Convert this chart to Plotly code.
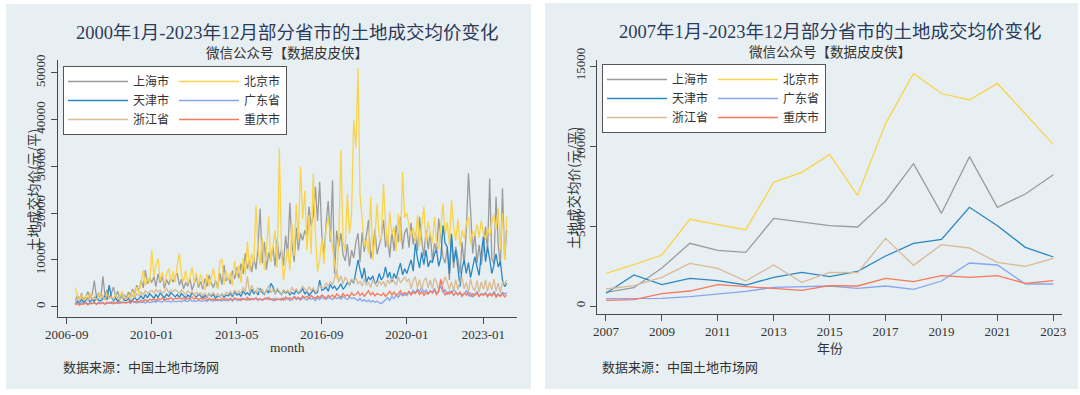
import plotly.graph_objects as go
import pandas as pd

W, H = 1080, 395

# ---------------- data ----------------
names = ["上海市", "北京市", "天津市", "广东省", "浙江省", "重庆市"]
line_colors = ["#9b9b9b", "#f9d44a", "#2a87c6", "#86a6ee", "#d8bb93", "#f7785a"]
groups_left = ["a", "b", "a", "b", "a", "b"]

months = pd.date_range("2007-01-01", "2023-12-01", freq="MS")
month_tick_vals = ["2006-09-01", "2010-01-01", "2013-05-01", "2016-09-01", "2020-01-01", "2023-01-01"]
month_tick_text = ["2006-09", "2010-01", "2013-05", "2016-09", "2020-01", "2023-01"]

sh_m = [
    1200, 2400, 1600, 2900, 1400, 2100, 3200, 1800, 2600, 5600, 2000, 3000,
    1700, 6500, 2500, 3600, 1900, 2800, 4200, 2200, 3300, 1600, 2900, 2400,
    2000, 3100, 2400, 3800, 2700, 4600, 3300, 5700, 4000, 7800, 4900, 6100,
    5200, 6400, 4300, 7000, 5100, 6600, 3900, 5800, 4700, 6200, 5300, 6400,
    7100, 4600, 5900, 3800, 5200, 4400, 6000, 3500, 4800, 6400, 4100, 5400,
    3700, 6000, 4300, 6800, 5000, 4100, 5600, 3900, 7200, 4700, 8900, 5500,
    6300, 4800, 7700, 5900, 8400, 6100, 9200, 7000, 11400, 8100, 9800, 7400,
    10500, 8000, 12600, 21000, 9300, 13800, 7900, 11600, 9700, 12800, 8600, 14500,
    10100, 12300, 8800, 15200, 11000, 22200, 13400, 9600, 16900, 12000, 15700, 14200,
    16300, 14800, 21400, 17200, 19500, 25600, 18300, 26700, 15300, 10700, 17800, 22600,
    13900, 27000, 7100, 16200, 12800, 15700, 11200, 9800, 13400, 8600, 12100, 10400,
    13700, 15700, 9500, 15900, 11700, 15700, 18500, 10300, 12400, 16600, 11200, 13100,
    14800, 18500, 12700, 14900, 10500, 16200, 11900, 17400, 13800, 19200, 12300, 15800,
    16800, 12600, 17900, 13300, 15800, 11900, 19200, 14200, 10800, 16400, 12300, 15700,
    9800, 13600, 11500, 18900, 14100, 10600, 9300, 12700, 5700, 15100, 8300, 12800,
    10200, 7100, 13800, 9000, 16300, 28500, 20600, 11400, 15700, 9300, 13200, 8900,
    12400, 17100, 11800, 27400, 10300, 9100, 23500, 13200, 8600, 25300, 10100, 16400,
]
bj_m = [
    4100, 2300, 1500, 2600, 1200, 2400, 1800, 3000, 1600, 2200, 1400, 2800,
    1900, 2500, 1300, 3100, 1700, 2200, 1500, 2700, 1200, 2000, 3300, 1800,
    1500, 2600, 2000, 3400, 2300, 4200, 3000, 5500, 7800, 4500, 6200, 5000,
    12100, 6500, 8800, 10300, 5600, 7400, 4800, 6900, 8200, 5300, 7600, 5200,
    9000, 11400, 6800, 5400, 7700, 4900, 6300, 8400, 5100, 7200, 4600, 6900,
    5300, 3600, 7000, 4400, 6100, 8200, 5000, 3800, 9600, 10200, 4700, 7600,
    5800, 7300, 4500, 9800, 6400, 8900, 5100, 10400, 6900, 13900, 7600, 11300,
    9400, 21700, 12500, 8900, 14800, 7800, 11600, 19200, 9700, 13600, 16300, 8300,
    33800, 11800, 5600, 9300, 12400, 7800, 17800, 10900, 22000, 14200, 29900, 18700,
    24800, 12000, 19600, 11200, 28500, 15300, 7500, 10000, 14600, 9200, 16900, 18900,
    16000, 12800, 9500, 6000, 14400, 33500, 14000, 11800, 24200, 15600, 20000, 39900,
    34000, 51000, 24000, 18600, 12800, 14200, 11300, 23500, 10000, 14800, 22000, 15000,
    14500, 26300, 18000, 12600, 20300, 15400, 17000, 11800, 19800, 13900, 28800, 19000,
    20000, 17300, 15200, 16800, 14000, 19600, 12900, 17500, 21400, 13800, 18200, 15500,
    13600, 19200, 14100, 12300, 16900, 22000, 15300, 18100, 13200, 22800, 17000, 14100,
    18700, 12900, 16300, 14600, 17800, 19200, 13500, 16200, 15100, 17600, 14800, 18400,
    15600, 14300, 16900, 15200, 17800, 19700, 16500, 21000, 12300, 20000, 10000, 19200,
]
tj_m = [
    600, 1200, 800, 1500, 900, 1300, 1800, 1000, 1600, 1100, 2200, 1400,
    1200, 1700, 2400, 1500, 4600, 2100, 1300, 1900, 1100, 1600, 2300, 1400,
    1300, 1800, 1100, 1500, 2000, 1400, 1700, 2300, 1600, 2600, 1900, 2800,
    2200, 1800, 2600, 2000, 2900, 2400, 1900, 2700, 2200, 3000, 2500, 2100,
    2600, 2000, 2800, 2300, 1900, 2500, 2100, 2900, 2400, 2000, 2700, 2200,
    1900, 2400, 2000, 2800, 2200, 2600, 1800, 2300, 2100, 2700, 2000, 2500,
    2300, 2900, 2100, 3200, 2500, 2800, 2200, 3400, 2600, 3000, 2400, 3700,
    2800, 3300, 2500, 3900, 3000, 2600, 3500, 2900, 5000, 4300, 2700, 3600,
    3100, 2600, 3400, 2900, 3300, 2500, 3000, 2700, 3500, 2800, 3200, 3900,
    2700, 3300, 2400, 2900, 3600, 2800, 3100, 5700, 3500, 3700, 4200, 3300,
    4800, 3900, 4400, 3600, 4100, 4900, 3700, 4300, 5200, 4600, 5800, 5000,
    7200, 10000, 7900, 6000, 8300, 5200, 6300, 5800, 6600, 4900, 5400, 7100,
    5700, 6500, 8500, 6200, 7400, 5300, 7100, 6000, 7800, 9300, 6800, 8100,
    7100, 8900, 10000, 7600, 13500, 10300, 8300, 11600, 9000, 12100, 8500, 9800,
    9500, 11300, 12100, 8600, 10400, 17400, 13600, 12800, 7100, 15600, 9400, 12100,
    7600, 4300, 8200, 10000, 7100, 9400, 6200, 8800, 10700, 8500, 6700, 11300,
    15000, 9600, 12800, 10200, 7100, 8900, 11300, 8500, 9700, 5700, 4300, 5000,
]
gd_m = [
    600, 900, 500, 800, 700, 1000, 600, 900, 700, 800, 600, 1000,
    700, 900, 600, 1000, 800, 700, 1100, 800, 900, 700, 1000, 800,
    800, 1000, 700, 1100, 900, 800, 1200, 900, 1000, 800, 1100, 900,
    1000, 1200, 900, 1300, 1100, 1000, 1400, 1100, 1200, 1000, 1300, 1100,
    1100, 1300, 1000, 1400, 1200, 1100, 1500, 1200, 1300, 1100, 1400, 1200,
    1200, 1400, 1100, 1500, 1300, 1200, 1600, 1300, 1400, 1200, 1500, 1300,
    1300, 1600, 1200, 1700, 1400, 1300, 1800, 1500, 1600, 1400, 1700, 1500,
    1500, 1800, 1300, 1700, 1400, 1600, 1900, 1500, 1700, 1300, 1800, 1600,
    1600, 1400, 1900, 1500, 1800, 1300, 1700, 2000, 1500, 1800, 1400, 1900,
    1700, 1400, 2000, 1600, 1800, 1300, 1900, 1500, 2100, 1700, 1600, 2000,
    1800, 1500, 2100, 1700, 2000, 1600, 2200, 1800, 1500, 2100, 1700, 1900,
    1600, 1300, 1800, 1200, 1500, 1100, 1400, 1000, 1300, 900, 1200, 800,
    700, 1100, 1500, 1900, 1300, 2200, 1700, 2500, 2000, 2800, 2300, 2600,
    2400, 3100, 2700, 3500, 2900, 3800, 3200, 4200, 3000, 3600, 2800, 3400,
    3100, 3900, 2700, 3500, 4400, 3000, 3700, 2600, 3300, 2900, 3600, 3200,
    2500, 3100, 2200, 2800, 3400, 2400, 2900, 2100, 2700, 3200, 2300, 2800,
    2600, 3000, 2300, 2900, 2500, 3300, 2400, 2800, 2200, 3100, 2700, 3000,
]
zj_m = [
    1300, 1800, 1200, 2100, 1500, 1900, 1400, 2300, 1600, 2000, 1500, 2400,
    1700, 2200, 1500, 2600, 1800, 2100, 1600, 2400, 1900, 1500, 2200, 1800,
    1600, 2100, 1800, 2500, 2000, 2800, 2300, 3100, 2600, 3400, 2800, 3200,
    3500, 2900, 3800, 3100, 3600, 2700, 3300, 3900, 3000, 3500, 3200, 3700,
    3300, 2800, 3600, 3000, 2600, 3400, 2900, 3200, 2500, 3100, 2700, 3000,
    2400, 2900, 2200, 2700, 2500, 3000, 2300, 2800, 2100, 2600, 2400, 3100,
    2700, 3300, 2500, 3600, 2900, 3400, 2800, 4200, 3100, 6500, 3000, 4600,
    3500, 2900, 4100, 3200, 3800, 2700, 3400, 4500, 3000, 3600, 2800, 4000,
    3300, 2600, 3700, 3100, 3500, 2900, 4200, 3300, 3800, 3000, 3600, 4400,
    3800, 3200, 4300, 3500, 4000, 3100, 3600, 4600, 3900, 4200, 5100, 4400,
    5400, 4700, 6100, 7800, 5200, 6600, 4900, 6300, 5600, 4600, 6000, 5300,
    6100, 4800, 5500, 4400, 5900, 4600, 5200, 4100, 5700, 5000, 4300, 5500,
    4700, 5400, 4200, 5800, 4900, 6100, 5300, 4600, 6300, 5100, 5700, 6400,
    5400, 6000, 3800, 5600, 6400, 4100, 5800, 3600, 5500, 6200, 4000, 5700,
    3900, 6100, 5300, 3500, 5900, 4800, 6400, 5300, 3700, 5300, 3400, 5800,
    3600, 5500, 6300, 3800, 5200, 3300, 5900, 4000, 3400, 5600, 3100, 5300,
    3700, 5800, 3200, 5300, 3600, 5900, 3300, 5100, 2900, 5400, 4800, 5700,
]
cq_m = [
    400, 700, 300, 600, 500, 800, 400, 700, 600, 900, 500, 800,
    600, 900, 500, 800, 700, 1000, 600, 900, 700, 1100, 800, 1000,
    800, 1100, 900, 1300, 1000, 1200, 900, 1400, 1100, 1500, 1200, 1600,
    1400, 1700, 1300, 1800, 1500, 1900, 1400, 1700, 1600, 2000, 1500, 1800,
    1700, 2000, 1600, 1900, 1500, 1800, 1700, 2100, 1600, 1900, 1500, 1800,
    1600, 1900, 1400, 1800, 1500, 1700, 1300, 1600, 1400, 1800, 1500, 1700,
    1500, 1800, 1400, 1900, 1600, 1700, 1300, 1800, 1500, 2000, 1400, 1700,
    1600, 1900, 1500, 1700, 1400, 1800, 1600, 2000, 1500, 1700, 1300, 1600,
    1500, 1800, 1400, 2100, 1700, 1900, 1500, 2200, 1800, 2000, 1600, 2300,
    1900, 2200, 1700, 2400, 2000, 1800, 2300, 1900, 2500, 2100, 1800, 2400,
    2100, 2500, 1900, 2700, 2300, 2000, 2800, 2200, 2600, 2100, 3000, 2400,
    2600, 3200, 2400, 2900, 2200, 2700, 3400, 2500, 3000, 2300, 2800, 2600,
    2400, 2900, 2200, 2700, 3300, 2500, 3100, 2400, 2800, 3400, 2600, 3000,
    2700, 3300, 2500, 3100, 2800, 3500, 2600, 3200, 2400, 3000, 2700, 3400,
    2900, 3600, 2600, 3200, 5800, 3500, 2500, 3100, 2700, 3300, 2400, 3000,
    2600, 3100, 2300, 2900, 2500, 3200, 2100, 2800, 2400, 3000, 2200, 2700,
    2400, 2900, 2100, 2700, 2300, 3000, 2000, 2600, 2200, 2800, 2100, 2500,
]

years = list(range(2007, 2024))
year_ticks = list(range(2007, 2024, 2))
sh_y = [854, 1146, 2375, 3917, 3479, 3354, 5479, 5229, 5021, 4937, 6562, 8896, 5792, 9333, 6167, 7000, 8208]
bj_y = [2042, 2583, 3187, 5417, 5083, 4771, 7729, 8354, 9479, 6917, 11400, 14540, 13280, 12875, 13910, 12000, 10104]
tj_y = [792, 1937, 1333, 1729, 1583, 1312, 1792, 2104, 1833, 2167, 3125, 3917, 4167, 6167, 5021, 3667, 3062]
gd_y = [458, 479, 479, 583, 750, 917, 1167, 1187, 1250, 1104, 1250, 1042, 1562, 2687, 2562, 1375, 1375]
zj_y = [1062, 1271, 1792, 2667, 2354, 1562, 2562, 1479, 2104, 2083, 4229, 2542, 3833, 3625, 2729, 2479, 2979]
cq_y = [354, 396, 771, 937, 1333, 1208, 1083, 979, 1271, 1250, 1729, 1521, 1896, 1792, 1896, 1417, 1583]

monthly = [sh_m, bj_m, tj_m, gd_m, zj_m, cq_m]
yearly = [sh_y, bj_y, tj_y, gd_y, zj_y, cq_y]

# ---------------- style ----------------
SERIF = "Liberation Serif, Noto Sans CJK SC"
CJK = "Noto Sans CJK SC"
BG = "#e8eff2"
GRID = "#e6eef1"
AX = "#4a4a4a"
TXT = "#333333"
TITLE = "#2b3b5c"


def px(x):
    return x / W


def py(y):
    return 1 - y / H


fig = go.Figure()

for name, col, grp, vals in zip(names, line_colors, groups_left, monthly):
    fig.add_trace(go.Scatter(x=months, y=vals, mode="lines", name=name,
                             line=dict(color=col, width=1.3),
                             legendgroup="L" + grp, legend="legend",
                             xaxis="x", yaxis="y"))
for name, col, grp, vals in zip(names, line_colors, groups_left, yearly):
    fig.add_trace(go.Scatter(x=years, y=vals, mode="lines", name=name,
                             line=dict(color=col, width=1.3),
                             legendgroup="R" + grp, legend="legend2",
                             xaxis="x2", yaxis="y2"))

axis_common = dict(showline=True, linecolor=AX, linewidth=1, ticks="outside",
                   ticklen=6, tickcolor=AX, tickwidth=1, automargin=False,
                   tickfont=dict(family=SERIF, size=13, color=TXT), zeroline=False)

legend_common = dict(orientation="h", traceorder="grouped", bgcolor="white",
                     bordercolor="#555555", borderwidth=1, itemwidth=60,
                     tracegroupgap=10,
                     font=dict(family=CJK, size=12, color=TXT),
                     xanchor="left", yanchor="top", itemclick=False)

fig.update_layout(
    width=W, height=H, margin=dict(l=0, r=0, t=0, b=0, autoexpand=False),
    paper_bgcolor="white", plot_bgcolor="white", showlegend=True,
    xaxis=dict(domain=[px(57.5), px(517)], anchor="y", type="date",
               range=["2006-04-22", "2024-04-26"], tickvals=month_tick_vals,
               ticktext=month_tick_text, showgrid=False, **axis_common),
    yaxis=dict(domain=[py(316.7), py(60)], anchor="x", range=[-2137, 52714],
               tickvals=[0, 10000, 20000, 30000, 40000, 50000], tickformat="d",
               tickangle=-90, showgrid=True, gridcolor=GRID, gridwidth=1,
               **axis_common),
    xaxis2=dict(domain=[px(597.3), px(1062)], anchor="y2",
                range=[2006.69, 2023.31], tickvals=year_ticks, tickformat="d",
                showgrid=False, **axis_common),
    yaxis2=dict(domain=[py(313.7), py(60)], anchor="x2", range=[-481, 15375],
                tickvals=[0, 5000, 10000, 15000], tickformat="d", tickangle=-90,
                showgrid=True, gridcolor=GRID, gridwidth=1, **axis_common),
    legend=dict(x=px(63), y=py(66), **legend_common),
    legend2=dict(x=px(602), y=py(64), **legend_common),
)

# panel backgrounds
fig.add_shape(type="rect", xref="paper", yref="paper", x0=px(6), x1=px(531),
              y0=py(389), y1=py(4), fillcolor=BG, line_width=0, layer="below")
fig.add_shape(type="rect", xref="paper", yref="paper", x0=px(545), x1=px(1078),
              y0=py(389), y1=py(3), fillcolor=BG, line_width=0, layer="below")

anns = [
    dict(text="2000年1月-2023年12月部分省市的土地成交均价变化", x=px(287), y=py(33),
         font=dict(family=SERIF, size=18.5, color=TITLE)),
    dict(text="微信公众号【数据皮皮侠】", x=px(287), y=py(52),
         font=dict(family=CJK, size=13.5, color=TXT)),
    dict(text="2007年1月-2023年12月部分省市的土地成交均价变化", x=px(830), y=py(32),
         font=dict(family=SERIF, size=18.5, color=TITLE)),
    dict(text="微信公众号【数据皮皮侠】", x=px(830), y=py(51),
         font=dict(family=CJK, size=13.5, color=TXT)),
    dict(text="month", x=px(287), y=py(347),
         font=dict(family=SERIF, size=13.5, color=TXT)),
    dict(text="年份", x=px(830), y=py(347),
         font=dict(family=CJK, size=13, color=TXT)),
    dict(text="土地成交均价(元/平)", x=px(33), y=py(190), textangle=-90,
         font=dict(family=CJK, size=13.5, color=TXT)),
    dict(text="土地成交均价(元/平)", x=px(573), y=py(188), textangle=-90,
         font=dict(family=CJK, size=13.5, color=TXT)),
    dict(text="数据来源：中国土地市场网", x=px(61), y=py(366), xanchor="left",
         font=dict(family=CJK, size=13, color=TXT)),
    dict(text="数据来源：中国土地市场网", x=px(600), y=py(366), xanchor="left",
         font=dict(family=CJK, size=13, color=TXT)),
]
for a in anns:
    a.setdefault("xanchor", "center")
    fig.add_annotation(xref="paper", yref="paper", yanchor="middle",
                       showarrow=False, **a)

fig.write_html("out.html", config={"displayModeBar": False},
               post_script="document.body.style.margin='0';")
